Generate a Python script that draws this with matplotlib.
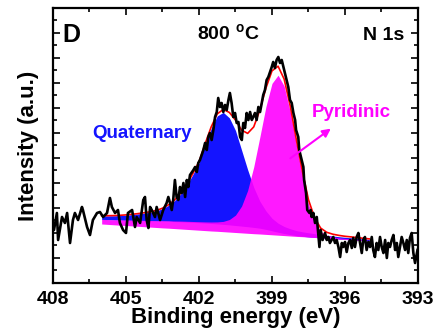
import matplotlib
matplotlib.use("Agg")
import matplotlib.pyplot as plt
from matplotlib.ticker import MultipleLocator, NullFormatter
import numpy as np

# ---- data (intensity in arbitrary units) -----------------------------------
# raw N 1s spectrum
spec_ev = [
    408.00, 407.96, 407.84, 407.79, 407.63, 407.51, 407.42, 407.30, 407.18, 407.10,
    406.97, 406.81, 406.77, 406.60, 406.48, 406.36, 406.19, 406.07, 405.94, 405.78,
    405.66, 405.58, 405.45, 405.33, 405.25, 405.12, 405.00, 404.92, 404.75, 404.63,
    404.56, 404.42, 404.29, 404.22, 404.15, 404.08, 404.01, 403.94, 403.81, 403.74,
    403.60, 403.47, 403.33, 403.26, 403.19, 403.12, 403.06, 402.99, 402.92, 402.85,
    402.78, 402.71, 402.64, 402.57, 402.50, 402.44, 402.37, 402.23, 402.16, 402.09,
    402.03, 401.96, 401.82, 401.75, 401.68, 401.62, 401.55, 401.48, 401.41, 401.34,
    401.27, 401.21, 401.14, 401.07, 401.00, 400.93, 400.86, 400.79, 400.73, 400.66,
    400.59, 400.52, 400.45, 400.38, 400.31, 400.24, 400.18, 400.11, 400.04, 399.97,
    399.90, 399.83, 399.77, 399.70, 399.63, 399.56, 399.49, 399.42, 399.36, 399.29,
    399.22, 399.15, 399.08, 399.01, 398.95, 398.88, 398.81, 398.74, 398.67, 398.60,
    398.53, 398.47, 398.40, 398.33, 398.26, 398.19, 398.12, 398.05, 398.01, 397.92,
    397.88, 397.78, 397.71, 397.68, 397.60, 397.55, 397.46, 397.41, 397.37, 397.30,
    397.23, 397.16, 397.10, 397.05, 397.00, 396.92, 396.82, 396.75, 396.68, 396.62,
    396.55, 396.48, 396.41, 396.34, 396.27, 396.20, 396.13, 396.07, 396.00, 395.93,
    395.86, 395.79, 395.72, 395.66, 395.59, 395.52, 395.45, 395.38, 395.31, 395.25,
    395.18, 395.11, 395.04, 394.97, 394.90, 394.84, 394.77, 394.70, 394.63, 394.56,
    394.49, 394.42, 394.35, 394.28, 394.22, 394.15, 394.08, 394.01, 393.94, 393.87,
    393.81, 393.74, 393.67, 393.60, 393.53, 393.46, 393.40, 393.33, 393.26, 393.19,
    393.12, 393.02,
]
spec_int = [
    55, 53, 70, 43, 66, 60, 70, 40, 63, 70,
    63, 76, 73, 56, 48, 63, 70, 71, 66, 70,
    85, 76, 70, 73, 60, 53, 50, 70, 73, 56,
    66, 60, 83, 86, 63, 55, 76, 73, 66, 76,
    63, 73, 80, 86, 80, 73, 83, 103, 86, 83,
    96, 90, 100, 86, 103, 96, 108, 113, 116, 111,
    120, 123, 133, 140, 133, 146, 150, 143, 153, 166,
    171, 185, 176, 180, 171, 178, 173, 183, 190, 180,
    166, 170, 160, 161, 146, 143, 160, 155, 170, 163,
    171, 163, 166, 170, 163, 176, 171, 180, 188, 193,
    203, 206, 211, 216, 221, 215, 223, 226, 220, 223,
    216, 210, 203, 196, 183, 180, 170, 163, 153, 146,
    133, 123, 116, 103, 90, 73, 70, 73, 66, 70,
    60, 66, 50, 36, 53, 43, 50, 43, 46, 40,
    43, 46, 40, 43, 36, 26, 40, 36, 41, 31,
    40, 43, 35, 45, 36, 46, 50, 40, 30, 43,
    46, 33, 41, 36, 46, 33, 26, 40, 33, 46,
    36, 30, 43, 25, 40, 36, 43, 48, 33, 40,
    26, 36, 46, 40, 33, 43, 30, 45, 50, 30,
    20, 33,
]

# peak fit: linear line, Shirley background, and the two components
fit_ev = [
    406.00, 405.75, 405.50, 405.25, 405.00, 404.75, 404.50, 404.25, 404.00, 403.75,
    403.50, 403.25, 403.00, 402.75, 402.50, 402.25, 402.00, 401.75, 401.50, 401.25,
    401.00, 400.75, 400.50, 400.25, 400.00, 399.75, 399.50, 399.25, 399.00, 398.75,
    398.50, 398.25, 398.00, 397.75, 397.50, 397.25, 397.00, 396.75, 396.50, 396.25,
    396.00, 395.75, 395.50, 395.25, 395.00,
]
baseline = [
    59.0, 58.6, 58.2, 57.8, 57.5, 57.1, 56.7, 56.3, 55.9, 55.5,
    55.1, 54.8, 54.4, 54.0, 53.6, 53.2, 52.8, 52.4, 52.0, 51.7,
    51.3, 50.9, 50.5, 50.1, 49.7, 49.3, 49.0, 48.6, 48.2, 47.8,
    47.4, 47.0, 46.6, 46.3, 45.9, 45.5, 45.1, 44.7, 44.3, 43.9,
    43.5, 43.2, 42.8, 42.4, 42.0,
]
shirley = [
    63.5, 63.2, 63.0, 62.8, 62.7, 62.6, 62.5, 62.3, 62.1, 61.9,
    61.8, 61.7, 61.4, 61.2, 60.9, 60.6, 60.3, 59.9, 59.5, 59.1,
    58.6, 58.1, 57.5, 56.9, 56.3, 55.6, 54.8, 53.6, 52.2, 50.8,
    49.5, 48.4, 47.4, 46.7, 46.1, 45.6, 45.1, 44.7, 44.3, 43.9,
    43.5, 43.2, 42.8, 42.4, 42.0,
]
pyridinic = [
    0.2, 0.2, 0.2, 0.3, 0.3, 0.3, 0.3, 0.4, 0.4, 0.4,
    0.5, 0.5, 0.6, 0.7, 0.8, 0.9, 1.0, 1.2, 1.5, 2.0,
    3.0, 5.4, 10.4, 20.0, 36.3, 60.5, 91.0, 122.7, 147.4, 157.0,
    147.4, 122.7, 91.0, 60.5, 33.0, 16.0, 6.5, 3.0, 1.8, 1.3,
    1.0, 0.9, 0.8, 0.7, 0.6,
]
quaternary = [
    3.6, 3.9, 4.2, 4.6, 5.1, 5.8, 6.6, 7.6, 8.7, 10.2,
    12.5, 16.0, 21.0, 28.0, 37.0, 48.0, 60.0, 78.0, 95.0, 108.0,
    112.0, 107.0, 95.0, 76.0, 57.0, 40.0, 27.0, 18.5, 12.5, 9.0,
    7.0, 5.8, 5.0, 4.5, 4.1, 3.7, 3.3, 3.0, 2.7, 2.4,
    2.2, 2.0, 1.8, 1.6, 1.5,
]

XTICKS = [408, 405, 402, 399, 396, 393]
XTICK_LABELS = ["408", "405", "402", "399", "396", "393"]

BLUE, MAGENTA, RED, INK = "#1414ff", "#ff00ff", "#ff0000", "#000000"

plt.rcParams.update({
    "font.family": "Liberation Sans",
    "font.weight": "bold",
    "axes.labelweight": "bold",
    "mathtext.fontset": "custom",
    "mathtext.bf": "Liberation Sans:bold",
    "mathtext.rm": "Liberation Sans:bold",
})

fig = plt.figure(figsize=(4.38, 3.34), dpi=100)
ax = fig.add_axes([0.121, 0.1527, 0.8333, 0.8234])

fe = np.array(fit_ev)
lin = np.array(baseline)
shb = np.array(shirley)
p = np.array(pyridinic)
q = np.array(quaternary)

# quaternary sits on the Shirley background; pyridinic is filled down to the line
ax.fill_between(fe, shb, shb + q, color=BLUE, lw=0, zorder=2)
ax.fill_between(fe, lin, shb + p, color=MAGENTA, alpha=0.9, lw=0, zorder=3)
ax.plot(fe, shb + p + q, color=RED, lw=1.2, zorder=4)
ax.plot(spec_ev, spec_int, color=INK, lw=1.9, zorder=5)

ax.set_xlim(408, 393)
ax.set_ylim(0, 275)
ax.set_xticks(XTICKS)
ax.set_xticklabels(XTICK_LABELS)
ax.xaxis.set_minor_locator(MultipleLocator(1.5))
ax.yaxis.set_major_locator(MultipleLocator(25))
ax.yaxis.set_minor_locator(MultipleLocator(12.5))
ax.yaxis.set_major_formatter(NullFormatter())
ax.tick_params(which="both", direction="in", top=True, right=True, width=1.2)
ax.tick_params(which="major", length=5, labelsize=14, pad=6)
ax.tick_params(which="minor", length=3)
for s in ax.spines.values():
    s.set_linewidth(1.6)

ax.set_xlabel("Binding energy (eV)", fontsize=16, labelpad=-1)
ax.set_ylabel("Intensity (a.u.)", fontsize=16, labelpad=4)

ax.text(0.027, 0.876, "D", transform=ax.transAxes, fontsize=18, ha="left", va="baseline")
ax.text(0.479, 0.884, r"800 $^{\mathbf{o}}$C", transform=ax.transAxes, fontsize=14,
        ha="center", va="baseline")
ax.text(0.962, 0.884, "N 1s", transform=ax.transAxes, fontsize=14, ha="right", va="baseline")
ax.text(0.107, 0.526, "Quaternary", transform=ax.transAxes, fontsize=13.5, color=BLUE,
        ha="left", va="baseline")
ax.text(0.710, 0.604, "Pyridinic", transform=ax.transAxes, fontsize=13.5, color=MAGENTA,
        ha="left", va="baseline")
ax.annotate("", xy=(396.49, 156), xytext=(398.34, 123),
            arrowprops=dict(arrowstyle="-|>", color=MAGENTA, lw=1.5, mutation_scale=12),
            zorder=6)

fig.savefig("out.png", dpi=100)
